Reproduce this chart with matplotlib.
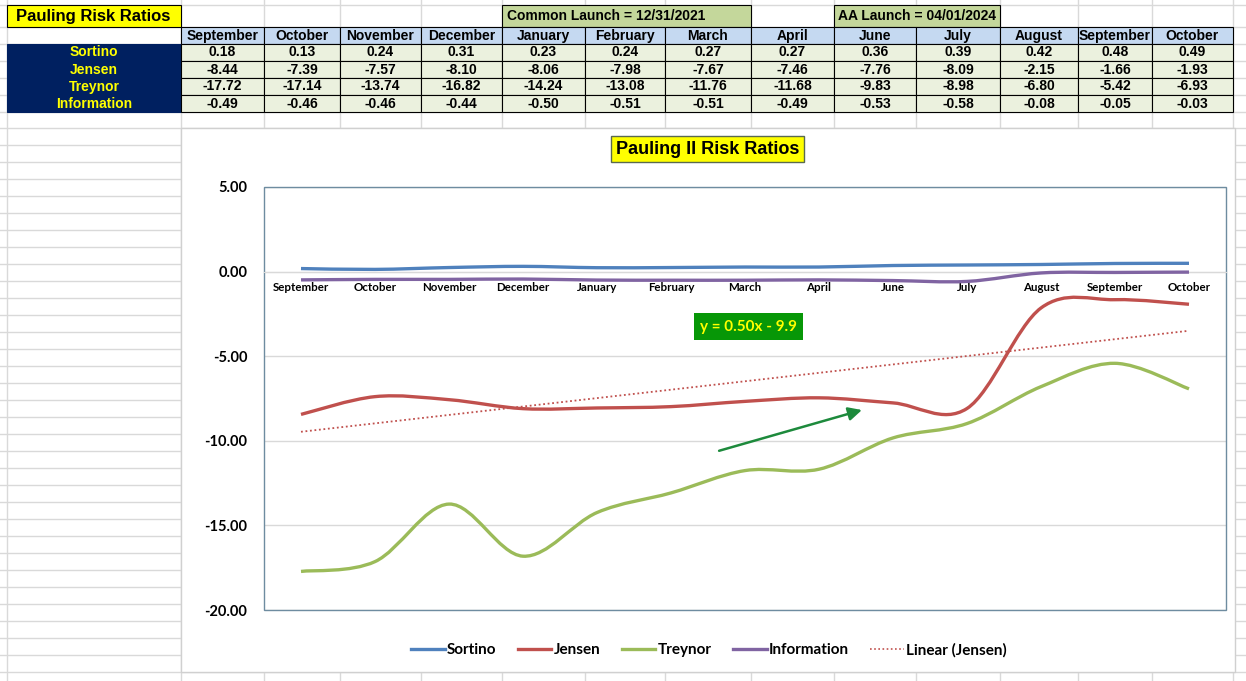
import numpy as np
import matplotlib
matplotlib.use('Agg')
import matplotlib.pyplot as plt
from matplotlib.patches import Rectangle, PathPatch
from matplotlib.path import Path
from matplotlib.lines import Line2D

# ---------------- data ----------------
months = ['September', 'October', 'November', 'December', 'January', 'February',
          'March', 'April', 'June', 'July', 'August', 'September', 'October']
sortino = [0.18, 0.13, 0.24, 0.31, 0.23, 0.24, 0.27, 0.27, 0.36, 0.39, 0.42, 0.48, 0.49]
jensen = [-8.44, -7.39, -7.57, -8.10, -8.06, -7.98, -7.67, -7.46, -7.76, -8.09, -2.15, -1.66, -1.93]
treynor = [-17.72, -17.14, -13.74, -16.82, -14.24, -13.08, -11.76, -11.68, -9.83, -8.98, -6.80, -5.42, -6.93]
information = [-0.49, -0.46, -0.46, -0.44, -0.50, -0.51, -0.51, -0.49, -0.53, -0.58, -0.08, -0.05, -0.03]
row_names = ['Sortino', 'Jensen', 'Treynor', 'Information']
yticks = [5, 0, -5, -10, -15, -20]
table_title = 'Pauling Risk Ratios'
chart_title = 'Pauling II Risk Ratios'
note1 = 'Common Launch = 12/31/2021'
note2 = 'AA Launch = 04/01/2024'
trend_label = 'y = 0.50x - 9.9'
legend_names = ['Sortino', 'Jensen', 'Treynor', 'Information', 'Linear (Jensen)']

# ---------------- style ----------------
W, H = 1246, 681
NARROW = ['Liberation Sans Narrow', 'Liberation Sans', 'DejaVu Sans']
CHART_FONT = ['Lato', 'DejaVu Sans']
C_SOR, C_JEN, C_TRE, C_INF = '#4f81bd', '#c0504d', '#9bbb59', '#8064a2'
GRID = '#d9d9d9'

fig = plt.figure(figsize=(W / 100, H / 100), dpi=100)
bg = fig.add_axes([0, 0, 1, 1])
bg.set_xlim(0, W)
bg.set_ylim(H, 0)
bg.axis('off')

# spreadsheet gridlines
col_edges = [181, 264, 340, 421, 502, 585, 665, 751, 834, 916, 1000, 1078, 1152, 1233]
row_edges = [44, 61, 78, 95, 112]
for x in [7] + col_edges:
    bg.plot([x, x], [0, H], color=GRID, lw=1, zorder=0)
hlines = [5, 27, 44, 61, 78, 95, 112] + list(range(128, H + 1, 17))
for y in hlines:
    bg.plot([0, W], [y, y], color=GRID, lw=1, zorder=0)

# table title
bg.add_patch(Rectangle((7, 5), 174, 22, fc='#ffff00', ec='#000000', lw=0.8, zorder=2))
bg.text(93, 16.5, table_title, ha='center', va='center', fontsize=12,
        fontweight='bold', family=NARROW, zorder=3)
# notes
bg.add_patch(Rectangle((502, 5), 249, 22, fc='#c4d79b', ec='#000000', lw=0.8, zorder=2))
bg.text(507, 16.5, note1, ha='left', va='center', fontsize=10, fontweight='bold',
        family=NARROW, zorder=3)
bg.add_patch(Rectangle((834, 5), 166, 22, fc='#c4d79b', ec='#000000', lw=0.8, zorder=2))
bg.text(838, 16.5, note2, ha='left', va='center', fontsize=10, fontweight='bold',
        family=NARROW, zorder=3)

# header row
for i, m in enumerate(months):
    x0, x1 = col_edges[i], col_edges[i + 1]
    bg.add_patch(Rectangle((x0, 27), x1 - x0, 17, fc='#c5d9f1', ec='#000000', lw=0.8, zorder=2))
    bg.text((x0 + x1) / 2, 36, m, ha='center', va='center', fontsize=10,
            fontweight='bold', family=NARROW, zorder=3)

# label block
bg.add_patch(Rectangle((7, 44), 174, 68, fc='#002060', ec='#002060', lw=0.8, zorder=2))
series = [sortino, jensen, treynor, information]
for r, (name, vals) in enumerate(zip(row_names, series)):
    y0, y1 = row_edges[r], row_edges[r + 1]
    bg.text(94, (y0 + y1) / 2, name, ha='center', va='center', fontsize=10,
            fontweight='bold', color='#ffff00', family=NARROW, zorder=3)
    for i, v in enumerate(vals):
        x0, x1 = col_edges[i], col_edges[i + 1]
        bg.add_patch(Rectangle((x0, y0), x1 - x0, y1 - y0, fc='#ebf1de', ec='#000000',
                               lw=0.8, zorder=2))
        bg.text((x0 + x1) / 2, (y0 + y1) / 2, f'{v:.2f}', ha='center', va='center',
                fontsize=10, fontweight='bold', family=NARROW, zorder=3)

# chart area
bg.add_patch(Rectangle((181, 128), 1054, 544, fc='white', ec='#d0d0d0', lw=1, zorder=4))
bg.text(707.5, 149, chart_title, ha='center', va='center', fontsize=13,
        fontweight='bold', family=NARROW, zorder=5,
        bbox=dict(boxstyle='square,pad=0.25', fc='#ffff00', ec='#5a6a50', lw=1))

# ---------------- plot ----------------
L, R, T, B = 264, 1226, 187, 610
ax = fig.add_axes([L / W, (H - B) / H, (R - L) / W, (B - T) / H])
ax.set_zorder(5)
ax.patch.set_alpha(0)
for s in ['top', 'left', 'right']:
    ax.spines[s].set_visible(False)
ax.spines['bottom'].set_position(('data', 0))
ax.spines['bottom'].set_color(GRID)
ax.set_xlim(-0.5, len(months) - 0.5)
ax.set_ylim(-20, 5)
ax.set_yticks(yticks)
ax.set_yticklabels([f'{v:.2f}' for v in yticks], fontsize=10.5, fontweight='bold',
                   family=CHART_FONT)
ax.tick_params(axis='y', length=0, pad=12)
ax.yaxis.grid(True, color=GRID, lw=1)
ax.set_axisbelow(True)
ax.set_xticks(range(len(months)))
ax.set_xticklabels(months, fontsize=8.3, fontweight='bold', family=CHART_FONT)
ax.tick_params(axis='x', length=0, pad=7.5)
ax.add_patch(Rectangle((0, 0), 1, 1, transform=ax.transAxes, fill=False,
                       ec='#6e8ca0', lw=1, zorder=1, clip_on=False))


def smooth_path(xs, ys):
    pts = np.column_stack([xs, ys]).astype(float)
    n = len(pts)
    verts = [pts[0]]
    codes = [Path.MOVETO]
    for i in range(n - 1):
        p0 = pts[i - 1] if i > 0 else pts[i]
        p1 = pts[i]
        p2 = pts[i + 1]
        p3 = pts[i + 2] if i + 2 < n else pts[i + 1]
        verts += [p1 + (p2 - p0) / 6, p2 - (p3 - p1) / 6, p2]
        codes += [Path.CURVE4] * 3
    return Path(verts, codes)


xs = np.arange(len(months))
for vals, c in [(sortino, C_SOR), (jensen, C_JEN), (treynor, C_TRE), (information, C_INF)]:
    ax.add_patch(PathPatch(smooth_path(xs, vals), fill=False, ec=c, lw=2.4,
                           capstyle='butt', zorder=3))

# linear trendline of Jensen (x = 1..n as in Excel)
k, b0 = np.polyfit(xs + 1, jensen, 1)
ax.plot(xs, k * (xs + 1) + b0, ls=(0, (1, 1.5)), color=C_JEN, lw=1.3, zorder=3)
ax.text(6.05, -3.25, trend_label, ha='center', va='center',
        fontsize=11, fontweight='bold', color='#ffff00', family=CHART_FONT, zorder=6,
        bbox=dict(boxstyle='square,pad=0.4', fc='#079707', ec='none'))

ax.annotate('', xy=(7.58, -8.18), xytext=(5.65, -10.59),
            arrowprops=dict(arrowstyle='-|>,head_length=0.8,head_width=0.4',
                            color='#1d8a3c', lw=1.8, shrinkA=0, shrinkB=0), zorder=6)

handles = [Line2D([], [], color=C_SOR, lw=2.4),
           Line2D([], [], color=C_JEN, lw=2.4),
           Line2D([], [], color=C_TRE, lw=2.4),
           Line2D([], [], color=C_INF, lw=2.4),
           Line2D([], [], color=C_JEN, lw=1.2, ls=(0, (1, 1.5)))]
leg = fig.legend(handles, legend_names, loc='center', bbox_to_anchor=(709 / W, (H - 650) / H),
                 ncol=5, frameon=False, handlelength=2.2, handletextpad=0.15,
                 columnspacing=1.4, prop=dict(family=CHART_FONT, weight='bold', size=11))
leg.set_zorder(7)

fig.savefig('out.png', dpi=100)
